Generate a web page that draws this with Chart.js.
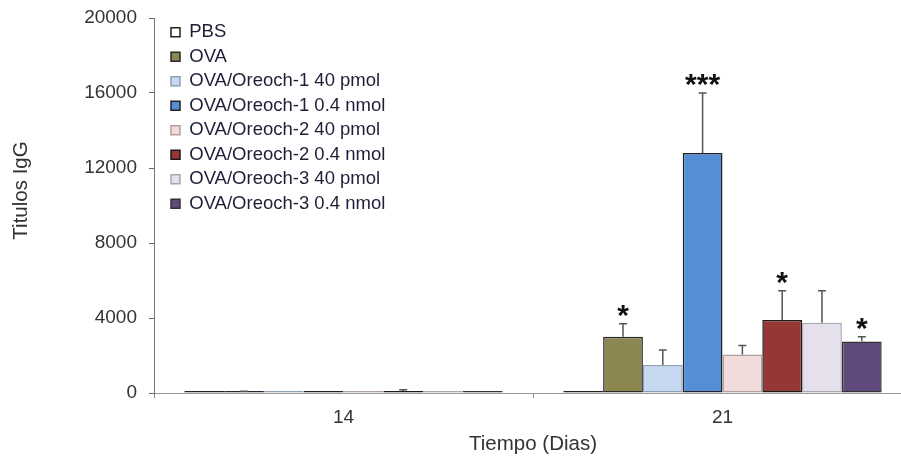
<!DOCTYPE html>
<html>
<head>
<meta charset="utf-8">
<script src="https://cdn.jsdelivr.net/npm/chart.js@4/dist/chart.umd.min.js"></script>
<style>
    html, body { margin: 0; padding: 0; background: #fff; }
    #wrap { width: 901px; height: 459px; position: relative; }
</style>
</head>
<body>
<div id="wrap"><canvas id="chart"></canvas></div>
<script>
// Data
const days = ['14', '21'];
const groups = [
    'PBS',
    'OVA',
    'OVA/Oreoch-1 40 pmol',
    'OVA/Oreoch-1 0.4 nmol',
    'OVA/Oreoch-2 40 pmol',
    'OVA/Oreoch-2 0.4 nmol',
    'OVA/Oreoch-3 40 pmol',
    'OVA/Oreoch-3 0.4 nmol'
];
const valuesDay14 = [10, 30, 80, 80, 80, 100, 20, 20];
const valuesDay21 = [20, 3000, 1500, 12800, 2050, 3900, 3750, 2750];
const errorsDay14 = [0, 60, 0, 0, 0, 80, 0, 0];
const errorsDay21 = [0, 700, 800, 3200, 480, 1550, 1700, 250];
const starsDay21 = ['', '*', '', '***', '', '*', '', '*'];
const yTicks = [0, 4000, 8000, 12000, 16000, 20000];

const fillColors = ['#ffffff', '#8c8650', '#c6d9f1', '#558ed5', '#f2dcdb', '#953735', '#e6e0ec', '#604a7b'];
const edgeColors = ['#222222', '#2a2a2a', '#8f9fb5', '#222222', '#b0a0a0', '#1a1a1a', '#a8a8b0', '#333333'];

(function () {
    const FONT = '"Liberation Sans", Arial, sans-serif';

    const datasets = groups.map((name, i) => ({
        label: name,
        data: [valuesDay14[i], valuesDay21[i]],
        errors: [errorsDay14[i], errorsDay21[i]],
        stars: ['', starsDay21[i]],
        backgroundColor: fillColors[i],
        borderColor: edgeColors[i],
        borderWidth: 1.5,
        borderSkipped: false,
        minBarLength: 2,
        categoryPercentage: 0.84,
        barPercentage: 1
    }));

    const errorBars = {
        id: 'errorBars',
        afterDatasetsDraw(chart) {
            const { ctx } = chart;
            const yScale = chart.scales.y;
            ctx.save();
            chart.data.datasets.forEach((ds, i) => {
                const meta = chart.getDatasetMeta(i);
                meta.data.forEach((bar, j) => {
                    const err = ds.errors[j];
                    const top = yScale.getPixelForValue(ds.data[j] + err);
                    if (err > 0) {
                        ctx.strokeStyle = '#555';
                        ctx.lineWidth = 1.5;
                        ctx.beginPath();
                        ctx.moveTo(bar.x, bar.y);
                        ctx.lineTo(bar.x, top);
                        ctx.moveTo(bar.x - 4, top);
                        ctx.lineTo(bar.x + 4, top);
                        ctx.stroke();
                    }
                    if (ds.stars[j]) {
                        ctx.fillStyle = '#111';
                        ctx.font = 'bold 30px ' + FONT;
                        ctx.textAlign = 'center';
                        ctx.textBaseline = 'alphabetic';
                        ctx.fillText(ds.stars[j], bar.x, top + 1);
                    }
                });
            });
            ctx.restore();
        }
    };

    // nudge legend and stretch x scale a little past the canvas edge, like the original
    const layoutTweaks = {
        id: 'layoutTweaks',
        afterLayout(chart) {
            chart.legend.left = chart.chartArea.left + 11;
            chart.legend.top = chart.chartArea.top - 1;
            const x = chart.scales.x;
            x.right += 11;
            x.width += 11;
            x.configure();
        }
    };

    const yTitle = {
        id: 'yTitle',
        afterDraw(chart) {
            const { ctx, chartArea } = chart;
            ctx.save();
            ctx.translate(21, (chartArea.top + chartArea.bottom) / 2 - 15);
            ctx.rotate(-Math.PI / 2);
            ctx.fillStyle = '#333';
            ctx.font = '20.5px ' + FONT;
            ctx.textAlign = 'center';
            ctx.textBaseline = 'middle';
            ctx.fillText('Titulos IgG', 0, 0);
            ctx.restore();
        }
    };

    new Chart(document.getElementById('chart'), {
        type: 'bar',
        data: { labels: days, datasets },
        plugins: [errorBars, layoutTweaks, yTitle],
        options: {
            responsive: true,
            maintainAspectRatio: false,
            animation: false,
            layout: { padding: { left: 0, right: 0, top: 18, bottom: 0 } },
            plugins: {
                tooltip: { enabled: false },
                legend: {
                    position: 'chartArea',
                    align: 'start',
                    labels: {
                        boxWidth: 9,
                        boxHeight: 9,
                        padding: 6,
                        color: '#1e1e38',
                        font: { family: FONT, size: 18.5 }
                    }
                }
            },
            scales: {
                x: {
                    grid: { display: true, drawOnChartArea: false, drawTicks: true, tickLength: 5, color: '#888' },
                    border: { color: '#999', width: 1 },
                    ticks: { color: '#333', padding: 8, font: { family: FONT, size: 19 } },
                    title: {
                        display: true,
                        text: 'Tiempo (Dias)',
                        color: '#333',
                        font: { family: FONT, size: 20.5 },
                        padding: { top: 0, bottom: 2 }
                    },
                    afterFit(scale) { scale.height = 66; }
                },
                y: {
                    min: 0,
                    max: 20000,
                    afterBuildTicks(scale) { scale.ticks = yTicks.map((v) => ({ value: v })); },
                    grid: { display: true, drawOnChartArea: false, drawTicks: true, tickLength: 5, color: '#666' },
                    border: { color: '#777', width: 1 },
                    ticks: {
                        color: '#333',
                        padding: 12,
                        font: { family: FONT, size: 19 },
                        callback: (value) => String(value)
                    },
                    afterFit(scale) {
                        scale.width = 154;
                        scale.paddingTop = 0;
                        scale.paddingBottom = 0;
                    }
                }
            }
        }
    });
})();
</script>
</body>
</html>
